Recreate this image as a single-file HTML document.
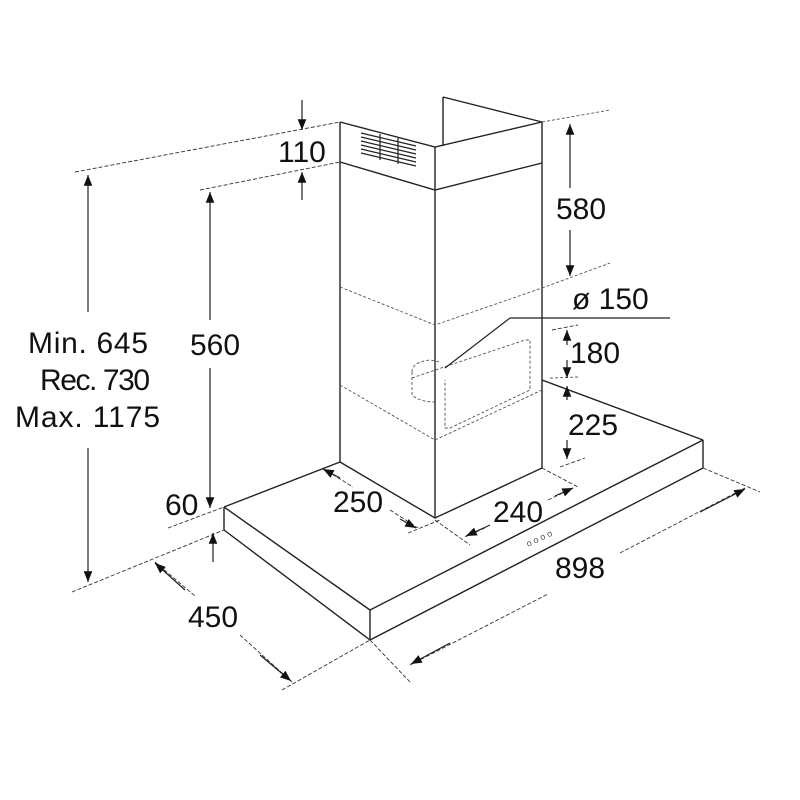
<!DOCTYPE html>
<html><head><style>
html,body{margin:0;padding:0;background:#fff;}
svg{display:block;}
text{font-family:"Liberation Sans",sans-serif;fill:#111;font-size:30px;}
</style></head><body>
<svg width="800" height="800" viewBox="0 0 800 800" xmlns="http://www.w3.org/2000/svg">
<defs>
<marker id="a" viewBox="0 0 10 10" refX="10" refY="5" markerWidth="9" markerHeight="9" orient="auto-start-reverse"><path d="M0,1 L10,5 L0,9 z" fill="#111"/></marker>
</defs>
<g stroke="#222" stroke-width="1.4" fill="none">
<line x1="340" y1="122" x2="340" y2="462"/>
<line x1="435" y1="147" x2="435" y2="518"/>
<line x1="542" y1="122" x2="542" y2="468"/>
<polyline points="340,122 435,147 542,122"/>
<polyline points="340,162 435,190 542,163"/>
<line x1="443" y1="97" x2="443" y2="146"/>
<line x1="443" y1="97" x2="542" y2="122"/>
<polyline points="340,462 435,518 542,468"/>
<line x1="224" y1="507" x2="340" y2="462"/>
<line x1="542" y1="380" x2="703" y2="440"/>
<line x1="224" y1="507" x2="370" y2="610"/>
<line x1="224" y1="530" x2="370" y2="640"/>
<line x1="370" y1="610" x2="703" y2="440"/>
<line x1="370" y1="640" x2="703" y2="468"/>
<line x1="224" y1="507" x2="224" y2="530"/>
<line x1="370" y1="610" x2="370" y2="640"/>
<line x1="703" y1="440" x2="703" y2="468"/>
</g>
<g stroke="#222" stroke-width="1.2">
<line x1="361" y1="133" x2="416" y2="146"/><line x1="361" y1="137" x2="416" y2="150"/>
<line x1="361" y1="141" x2="416" y2="154"/><line x1="361" y1="145" x2="416" y2="158"/>
<line x1="361" y1="149" x2="416" y2="162"/><line x1="361" y1="153" x2="416" y2="166"/>
<line x1="380" y1="134" x2="380" y2="160"/><line x1="398" y1="138" x2="398" y2="164"/>
</g>
<g stroke="#555" stroke-width="0.9" fill="none" stroke-dasharray="3,2">
<polyline points="340,287 435,325 542,288"/>
<polyline points="340,385 435,440 542,390"/>
<polyline points="412,378 450,365 525,340 530,340 530,390 450,428 445,428 445,380"/>
<path d="M412,372 Q412,362 430,360 L440,362 M412,372 L412,395 Q420,402 435,402"/>
<polyline points="542,288 610,263"/>
<polyline points="542,122 610,110"/>
<polyline points="550,378 578,377"/>
</g>
<g stroke="#333" stroke-width="0.9" fill="none" stroke-dasharray="4,2">
<line x1="75" y1="172" x2="340" y2="122"/>
<line x1="200" y1="190" x2="340" y2="162"/>
<line x1="72" y1="592" x2="224" y2="530"/>
<line x1="168" y1="528" x2="224" y2="507"/>
<line x1="282" y1="690" x2="370" y2="640"/>
<line x1="410" y1="682" x2="370" y2="640"/>
<line x1="703" y1="468" x2="760" y2="492"/>
<line x1="542" y1="468" x2="578" y2="487"/>
<line x1="560" y1="467" x2="585" y2="458"/>
<line x1="408" y1="533" x2="440" y2="520"/>
<line x1="435" y1="520" x2="470" y2="545"/>
<line x1="552" y1="330" x2="578" y2="325"/>
<line x1="155" y1="562" x2="195" y2="596"/>
<line x1="240" y1="635" x2="292" y2="682"/>
<line x1="410" y1="665" x2="548" y2="594"/>
<line x1="620" y1="553" x2="745" y2="488"/>
<line x1="322" y1="468" x2="353" y2="487"/>
<line x1="390" y1="510" x2="418" y2="528"/>
<line x1="465" y1="537" x2="487" y2="527"/>
<line x1="548" y1="500" x2="575" y2="487"/>
</g>
<g stroke="#222" stroke-width="1.2" fill="none">
<line x1="88" y1="312" x2="88" y2="175" marker-end="url(#a)"/>
<line x1="88" y1="448" x2="88" y2="582" marker-end="url(#a)"/>
<line x1="210" y1="320" x2="210" y2="192" marker-end="url(#a)"/>
<line x1="210" y1="368" x2="210" y2="508" marker-end="url(#a)"/>
<line x1="302" y1="100" x2="302" y2="130" marker-end="url(#a)"/>
<line x1="302" y1="200" x2="302" y2="172" marker-end="url(#a)"/>
<line x1="213" y1="562" x2="213" y2="533" marker-end="url(#a)"/>
<line x1="570" y1="188" x2="570" y2="124" marker-end="url(#a)"/>
<line x1="570" y1="230" x2="570" y2="276" marker-end="url(#a)"/>
<line x1="567" y1="345" x2="567" y2="330" marker-end="url(#a)"/>
<line x1="567" y1="360" x2="567" y2="378" marker-end="url(#a)"/>
<line x1="567" y1="400" x2="567" y2="386" marker-end="url(#a)"/>
<line x1="567" y1="440" x2="567" y2="459" marker-end="url(#a)"/>
<line x1="185" y1="590" x2="155" y2="563" marker-end="url(#a)"/>
<line x1="260" y1="655" x2="291" y2="681" marker-end="url(#a)"/>
<line x1="450" y1="643" x2="411" y2="664" marker-end="url(#a)"/>
<line x1="700" y1="512" x2="745" y2="489" marker-end="url(#a)"/>
<line x1="340" y1="478" x2="323" y2="469" marker-end="url(#a)"/>
<line x1="400" y1="519" x2="416" y2="528" marker-end="url(#a)"/>
<line x1="490" y1="525" x2="466" y2="536" marker-end="url(#a)"/>
<line x1="555" y1="496" x2="573" y2="488" marker-end="url(#a)"/>
<line x1="510" y1="318" x2="670" y2="318"/>
<line x1="510" y1="318" x2="445" y2="368"/>
</g>
<text x="28" y="353" textLength="120">Min. 645</text>
<text x="40" y="390" textLength="110">Rec. 730</text>
<text x="15" y="427" textLength="145">Max. 1175</text>
<text x="190" y="355">560</text>
<text x="278" y="162">110</text>
<text x="165" y="515">60</text>
<text x="556" y="219">580</text>
<text x="572" y="309">ø 150</text>
<text x="570" y="363">180</text>
<text x="568" y="435">225</text>
<text x="333" y="512">250</text>
<text x="493" y="522">240</text>
<text x="555" y="578">898</text>
<text x="188" y="627">450</text>
<text x="528" y="547" transform="rotate(-25 528 547)" style="font-size:9px;fill:#555">o o o o</text>
</svg>
</body></html>
